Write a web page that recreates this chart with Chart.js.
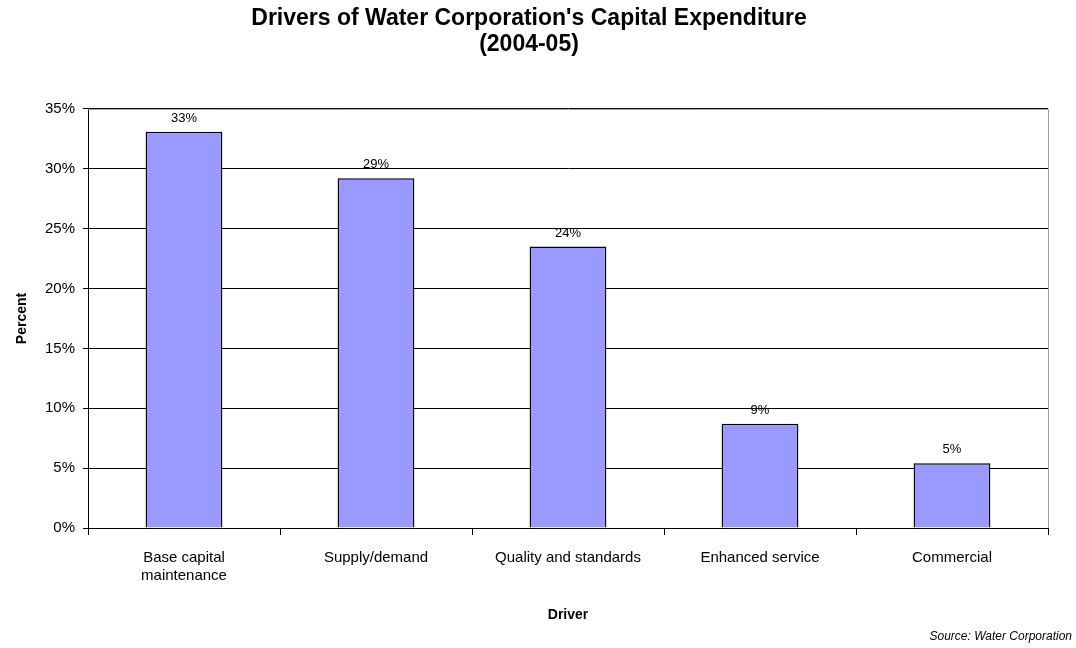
<!DOCTYPE html>
<html>
<head>
<meta charset="utf-8">
<script src="https://cdn.jsdelivr.net/npm/chart.js@4/dist/chart.umd.min.js"></script>
<style>
  html, body { margin: 0; padding: 0; background: #ffffff; }
  #wrap { width: 1076px; height: 648px; }
</style>
</head>
<body>
<div id="wrap"><canvas id="myChart" width="1076" height="648"></canvas></div>
<script>
// data
const drivers = [['Base capital', 'maintenance'], 'Supply/demand', 'Quality and standards', 'Enhanced service', 'Commercial'];
const shares = [33.1, 29.2, 23.5, 8.7, 5.4];
const yTicks = [0, 5, 10, 15, 20, 25, 30, 35];

const fontFamily = '"Liberation Sans", Arial, Helvetica, sans-serif';

// labels above bars + gray frame on the right/top + source note
const extras = {
  id: 'extras',
  afterDatasetsDraw(chart) {
    const ctx = chart.ctx;
    const area = chart.chartArea;
    ctx.save();
    ctx.strokeStyle = '#999999';
    ctx.lineWidth = 1;
    ctx.beginPath();
    ctx.moveTo(area.left, area.top + 0.5);
    ctx.lineTo(area.right + 0.5, area.top + 0.5);
    ctx.lineTo(area.right + 0.5, area.bottom);
    ctx.stroke();

    ctx.fillStyle = '#000000';
    ctx.font = '13px ' + fontFamily;
    ctx.textAlign = 'center';
    ctx.textBaseline = 'bottom';
    const meta = chart.getDatasetMeta(0);
    meta.data.forEach((bar, i) => {
      ctx.fillText(Math.round(shares[i]) + '%', bar.x, bar.y - 7);
    });

    ctx.font = 'italic 12px ' + fontFamily;
    ctx.textAlign = 'right';
    ctx.textBaseline = 'middle';
    ctx.fillText('Source: Water Corporation', chart.width - 4, 637);
    ctx.restore();
  }
};

const chart = new Chart(document.getElementById('myChart'), {
  type: 'bar',
  data: {
    labels: drivers,
    datasets: [{
      data: shares,
      backgroundColor: '#9999FF',
      borderColor: '#000000',
      borderWidth: 1.5,
      borderSkipped: 'bottom',
      categoryPercentage: 1,
      barPercentage: 0.4
    }]
  },
  options: {
    responsive: false,
    animation: false,
    layout: { padding: { left: 10, right: 28, top: 0, bottom: 20 } },
    plugins: {
      legend: { display: false },
      tooltip: { enabled: false },
      title: {
        display: true,
        text: ["Drivers of Water Corporation's Capital Expenditure", '(2004-05)'],
        color: '#000000',
        font: { family: fontFamily, size: 23, weight: 'bold', lineHeight: 1.15 },
        padding: { top: 5, bottom: 51 }
      }
    },
    scales: {
      x: {
        offset: true,
        grid: { display: true, drawOnChartArea: false, offset: true, color: '#000000', tickLength: 7 },
        border: { display: true, color: '#000000' },
        ticks: { color: '#000000', font: { family: fontFamily, size: 15 }, padding: 14, maxRotation: 0 },
        title: { display: true, text: 'Driver', color: '#000000', font: { family: fontFamily, size: 14, weight: 'bold' }, padding: { top: 10 } },
        afterFit(scale) { scale.height = 100; }
      },
      y: {
        min: 0,
        max: 35,
        afterBuildTicks(scale) { scale.ticks = yTicks.map(v => ({ value: v })); },
        grid: { color: '#000000', tickLength: 5 },
        border: { display: true, color: '#000000' },
        ticks: { color: '#000000', font: { family: fontFamily, size: 15 }, padding: 8, callback: v => v + '%' },
        title: { display: true, text: 'Percent', color: '#000000', font: { family: fontFamily, size: 14, weight: 'bold' }, padding: { bottom: 6 } },
        afterFit(scale) { scale.width = 78; }
      }
    }
  },
  plugins: [extras]
});
</script>
</body>
</html>
